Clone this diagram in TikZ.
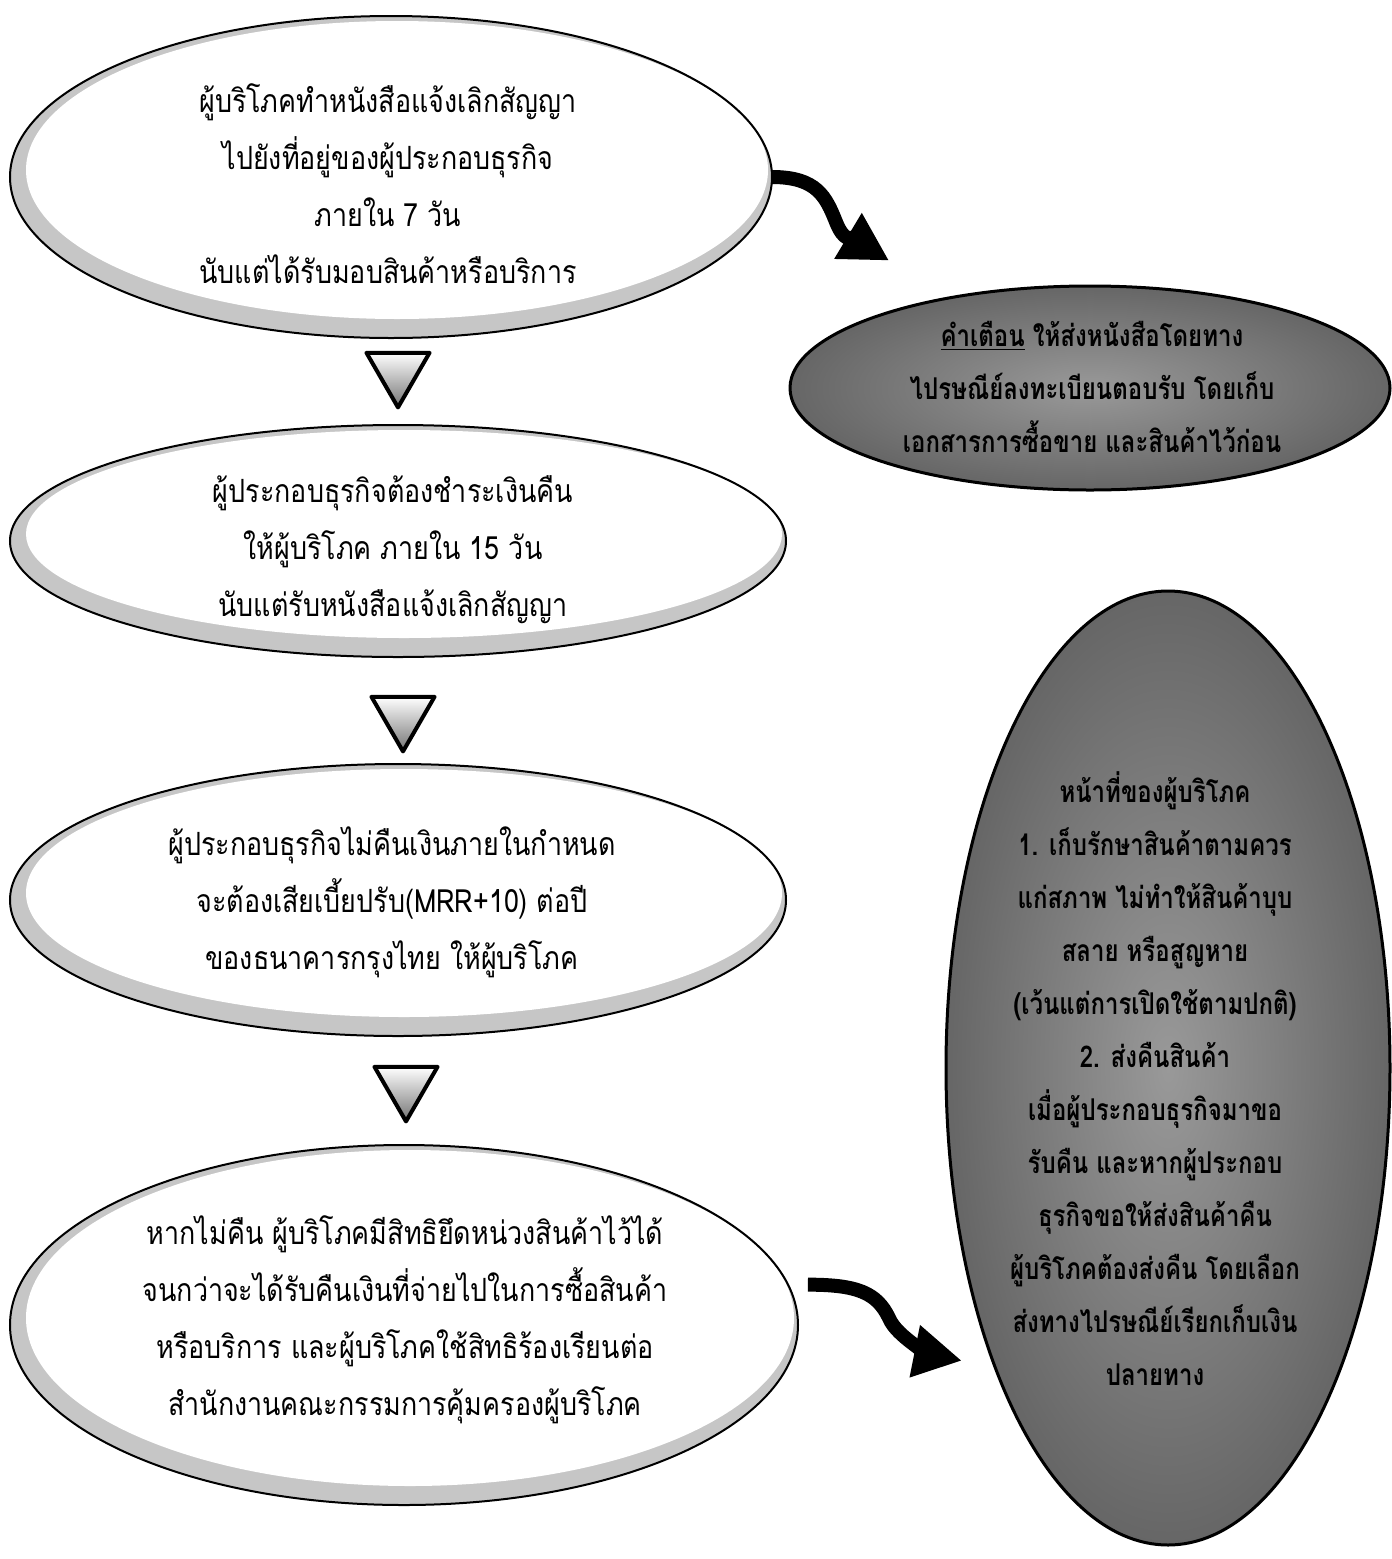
\documentclass[tikz,border=0pt]{standalone}
\usepackage{fontspec}
\newfontfamily\thai[Script=Thai,FakeStretch=0.84]{Loma}
\newfontfamily\thaib[Script=Thai,FakeStretch=0.80]{Loma}
\usetikzlibrary{shapes.geometric,arrows.meta}
\begin{document}
\begin{tikzpicture}[x=0.5pt,y=-0.5pt,
  lightell/.style 2 args={ellipse, draw=black, line width=1pt, minimum width=#1, minimum height=#2,
    inner sep=0pt, outer sep=0pt,
    path picture={\fill[gray!45] (path picture bounding box.south west) rectangle (path picture bounding box.north east);
      \fill[white] ([xshift=3pt,yshift=3.5pt]path picture bounding box.center) ellipse [x radius=0.5*#1-5pt, y radius=0.5*#2-6pt];}},
  darkell/.style 2 args={ellipse, draw=black, line width=1.5pt, minimum width=#1, minimum height=#2,
    inner sep=0pt, outer sep=0pt, inner color=gray!80, outer color=gray!80!black},
  lighttxt/.style={align=center, font=\thai\fontsize{16}{28.5}\selectfont, inner sep=0pt},
  darktxt/.style={align=center, font=\thaib\bfseries\fontsize{15}{26.5}\selectfont, inner sep=0pt},
  downtri/.style={regular polygon, regular polygon sides=3, shape border rotate=180, minimum size=36.4pt,
    inner sep=0pt, draw=black, line width=2pt, line join=round, top color=white, bottom color=black!55},
  bigarrow/.style={line width=7pt, black, -{Triangle[length=24pt,width=25pt]}}
]
\useasboundingbox (0,0) rectangle (1392,1559);
\fill[white] (0,0) rectangle (1392,1559);

% light ellipses
\node[lightell={381pt}{161pt}] (e1) at (391,177) {};
\node[lightell={388pt}{116pt}] (e2) at (398,541) {};
\node[lightell={388pt}{136pt}] (e3) at (398,900) {};
\node[lightell={394pt}{180pt}] (e4) at (404,1325) {};

% dark ellipses
\node[darkell={300pt}{102pt}] (warn) at (1090,388) {};
\node[darkell={222pt}{477pt}] (duty) at (1168,1068) {};

% texts
\node[lighttxt] (t1) at (388,184) {ผู้บริโภคทำหนังสือแจ้งเลิกสัญญา\\ไปยังที่อยู่ของผู้ประกอบธุรกิจ\\ภายใน 7 วัน\\นับแต่ได้รับมอบสินค้าหรือบริการ};
\node[lighttxt] (t2) at (393,550) {ผู้ประกอบธุรกิจต้องชำระเงินคืน\\ให้ผู้บริโภค ภายใน 15 วัน\\นับแต่รับหนังสือแจ้งเลิกสัญญา};
\node[lighttxt] (t3) at (392,902) {ผู้ประกอบธุรกิจไม่คืนเงินภายในกำหนด\\จะต้องเสียเบี้ยปรับ(MRR+10) ต่อปี\\ของธนาคารกรุงไทย ให้ผู้บริโภค};
\node[lighttxt] (t4) at (405,1320) {หากไม่คืน ผู้บริโภคมีสิทธิยึดหน่วงสินค้าไว้ได้\\จนกว่าจะได้รับคืนเงินที่จ่ายไปในการซื้อสินค้า\\หรือบริการ และผู้บริโภคใช้สิทธิร้องเรียนต่อ\\สำนักงานคณะกรรมการคุ้มครองผู้บริโภค};

\node[darktxt] (tw) at (1092,387) {\underline{คำเตือน} ให้ส่งหนังสือโดยทาง\\ไปรษณีย์ลงทะเบียนตอบรับ โดยเก็บ\\เอกสารการซื้อขาย และสินค้าไว้ก่อน};
\node[darktxt] (td) at (1155,1079) {หน้าที่ของผู้บริโภค\\1. เก็บรักษาสินค้าตามควร\\แก่สภาพ ไม่ทำให้สินค้าบุบ\\สลาย หรือสูญหาย\\(เว้นแต่การเปิดใช้ตามปกติ)\\2. ส่งคืนสินค้า\\เมื่อผู้ประกอบธุรกิจมาขอ\\รับคืน และหากผู้ประกอบ\\ธุรกิจขอให้ส่งสินค้าคืน\\ผู้บริโภคต้องส่งคืน โดยเลือก\\ส่งทางไปรษณีย์เรียกเก็บเงิน\\ปลายทาง};

% down triangles
\node[downtri] (tri1) at (398,371) {};
\node[downtri] (tri2) at (403,715) {};
\node[downtri] (tri3) at (406,1085) {};

% curved arrows
\coordinate (a1m) at (836,222);
\coordinate (a2m) at (889,1318);
\draw[bigarrow, shorten >=36pt] (e1.east) .. controls +(45,0) and +(-10,-25) .. (a1m)
  .. controls +(8,20) and +(-100,-60) .. (warn.147);
\draw[bigarrow, shorten >=17pt] ([xshift=10pt]e4.6) .. controls +(50,0) and +(-12,-25) .. (a2m)
  .. controls +(8,20) and +(-60,-12) .. (duty.240);
\end{tikzpicture}
\end{document}
